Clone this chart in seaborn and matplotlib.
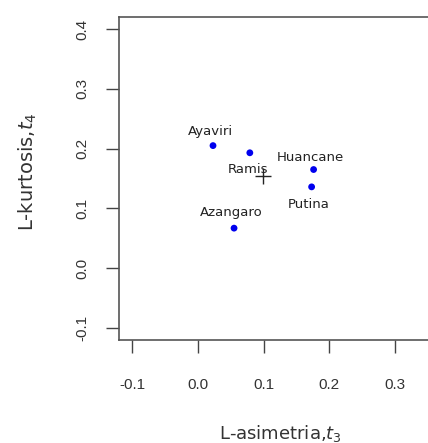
import matplotlib
matplotlib.use("Agg")
import matplotlib.pyplot as plt
import seaborn as sns
import pandas as pd

# L-moment ratios per station
stations = ["Ayaviri", "Ramis", "Huancane", "Putina", "Azangaro"]
t3 = [0.023, 0.079, 0.176, 0.173, 0.055]
t4 = [0.205, 0.193, 0.165, 0.136, 0.067]

# regional mean (cross)
mean_t3 = [0.099]
mean_t4 = [0.155]

x_ticks = [-0.1, 0.0, 0.1, 0.2, 0.3]
y_ticks = [-0.1, 0.0, 0.1, 0.2, 0.3, 0.4]

sns.set_style("ticks")
plt.rcParams["font.family"] = ["Liberation Sans", "DejaVu Sans"]

df = pd.DataFrame({"station": stations, "t3": t3, "t4": t4})

fig = plt.figure(figsize=(4.28, 4.43), dpi=100)
ax = fig.add_axes([119 / 428, 103 / 443, 355 / 428, 323 / 443])

sns.scatterplot(data=df, x="t3", y="t4", ax=ax, color="#0000ee", s=24,
                edgecolor="none", zorder=3)
ax.plot(mean_t3, mean_t4, marker="+", color="#222222", markersize=11,
        markeredgewidth=1.0, linestyle="none", zorder=3)

# label offsets in points (above / below the point)
offsets = {"Ayaviri": (-2, 10), "Ramis": (-1, -12), "Huancane": (-2, 9),
           "Putina": (-2, -13), "Azangaro": (-2, 11)}
for name, x, y in zip(stations, t3, t4):
    ax.annotate(name, (x, y), xytext=offsets[name], textcoords="offset points",
                ha="center", va="center", fontsize=9.5, color="#222222",
                family="DejaVu Sans")

ax.set_xlim(-0.12, 0.42)
ax.set_ylim(-0.12, 0.42)
ax.set_xticks(x_ticks)
ax.set_yticks(y_ticks)
ax.set_xticklabels([f"{v:.1f}" for v in x_ticks], fontsize=11, color="#333333")
ax.set_yticklabels([f"{v:.1f}" for v in y_ticks], fontsize=11, color="#333333",
                   rotation=90, va="center")
ax.tick_params(axis="x", length=9.5, width=1, color="#444444", pad=18)
ax.tick_params(axis="y", length=9.5, width=1, color="#444444", pad=12)

for sp in ax.spines.values():
    sp.set_visible(True)
    sp.set_color("#555555")
    sp.set_linewidth(1.2)

ax.set_xlabel("L-asimetria,$t_3$", fontsize=13, color="#333333",
              family="DejaVu Sans")
ax.set_ylabel("L-kurtosis,$t_4$", fontsize=14, color="#333333",
              family="DejaVu Sans")
ax.xaxis.set_label_coords(0.4535, -0.288)
ax.xaxis.label.set_va("center")
ax.yaxis.set_label_coords(-0.256, 0.522)
ax.yaxis.label.set_va("center")

fig.savefig("out.png", dpi=100)
